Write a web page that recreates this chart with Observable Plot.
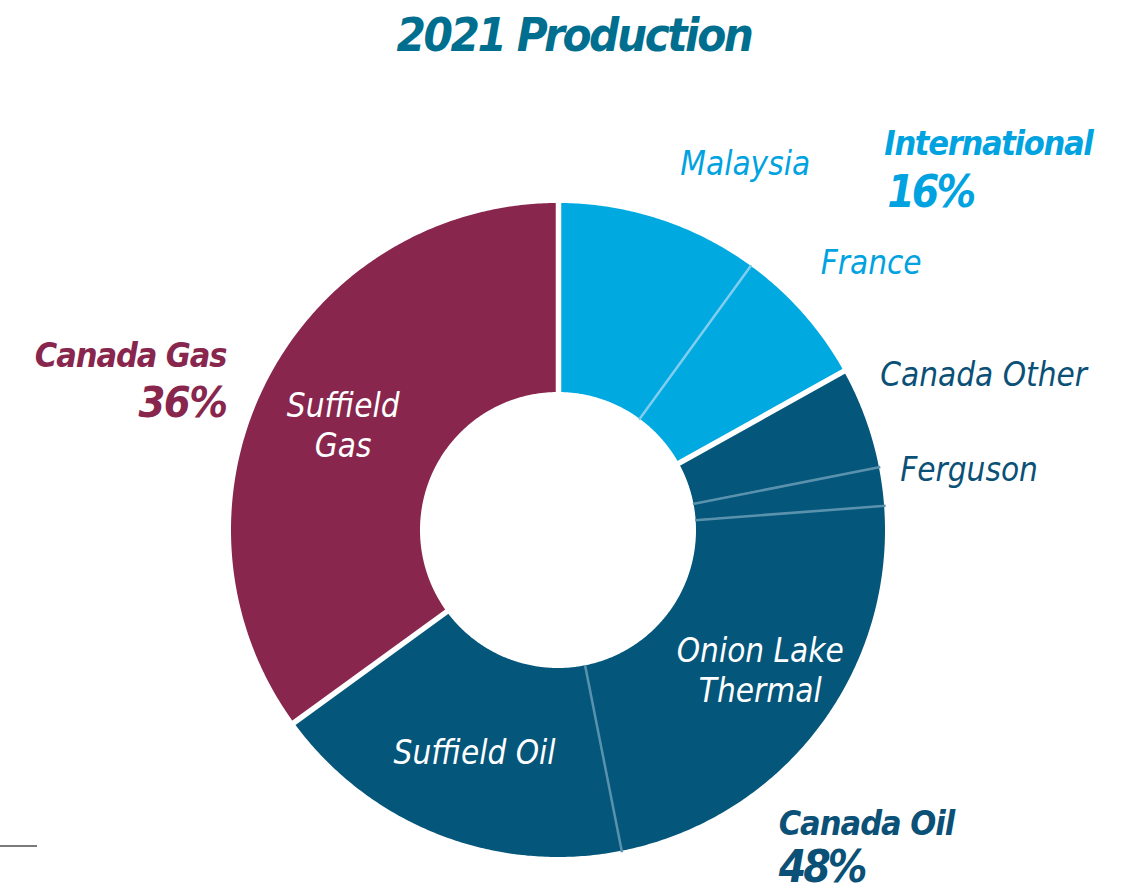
<!DOCTYPE html>
<html><head><meta charset="utf-8">
<script src="https://cdn.jsdelivr.net/npm/d3@7"></script>
<script src="https://cdn.jsdelivr.net/npm/@observablehq/plot@0.6"></script>
<style>
body{margin:0;background:#fff;}
#title{width:1128px;height:70px;line-height:70px;font-size:47px;letter-spacing:-2.4px;font-weight:bold;font-style:italic;color:#006f8f;text-align:center;padding-left:20px;box-sizing:border-box;font-family:"Liberation Sans Narrow","DejaVu Sans Condensed","Roboto Condensed",sans-serif;}
#chart{position:relative;}
#rule{position:absolute;left:0;top:845px;width:37px;height:2px;background:#7a7a7a;}
</style></head><body>
<div id="title">2021 Production</div>
<div id="chart"></div>
<div id="rule"></div>
<script>
// ---- data ----
const slices = ["Malaysia", "France", "Canada Other", "Ferguson", "Onion Lake\nThermal", "Suffield Oil", "Suffield\nGas"];
const sliceGroups = ["International", "International", "Canada Oil", "Canada Oil", "Canada Oil", "Canada Oil", "Canada Gas"];
const shares = [10.0, 6.9, 5.0, 1.9, 23.1, 18.1, 35.0];
const groups = ["International", "Canada Oil", "Canada Gas"];
const groupPct = ["16%", "48%", "36%"];

// ---- style / layout ----
const FONT = '"Liberation Sans Narrow","DejaVu Sans Condensed","Roboto Condensed",sans-serif';
const colors = ["#00a9e0", "#04567a", "#88264e"];
const thinColors = {"International": "#7fcdef", "Canada Oil": "#5a92ae"};
const textColors = {"International": "#00a3df", "Canada Oil": "#0b5076", "Canada Gas": "#88264e"};
const R = 327, R0 = 138;
const sliceLabelLayout = {
  "Malaysia": {inside: false, da: 0.4, r: 386},
  "France": {inside: false, da: -3.9, r: 374},
  "Canada Other": {inside: false, da: -5.5, r: 357},
  "Ferguson": {inside: false, da: -2.3, r: 347},
  "Onion Lake\nThermal": {inside: true, da: -2.7, r: 245},
  "Suffield Oil": {inside: true, da: -0.6, r: 236},
  "Suffield\nGas": {inside: true, da: -0.8, r: 240}
};
const groupLabelLayout = {
  "International": {da: 9.7, r: 505.6, anchor: "start", nSize: 34, nLs: -1.3, pdx: 3, pdy: 49, pSize: 44, pLs: -3},
  "Canada Oil": {da: -4.3, r: 366.8, anchor: "start", nSize: 34, nLs: -1.0, pdx: 0, pdy: 44, pSize: 44, pLs: -3},
  "Canada Gas": {da: 0.7, r: 375, anchor: "end", nSize: 34, nLs: -1.1, pdx: 0, pdy: 47, pSize: 43, pLs: -1.5}
};

// ---- geometry from data ----
const total = d3.sum(shares);
let acc = 0;
const arcs = slices.map((name, i) => {
  const a0 = acc / total * 360; acc += shares[i];
  const a1 = acc / total * 360;
  return {name, group: sliceGroups[i], a0, a1, mid: (a0 + a1) / 2};
});
const px = (r, deg) => r * Math.sin(deg * Math.PI / 180);
const py = (r, deg) => -r * Math.cos(deg * Math.PI / 180);

const ring = [];
for (const a of arcs) {
  const n = Math.max(8, Math.ceil((a.a1 - a.a0) * 2));
  for (let k = 0; k <= n; k++) {
    const t = a.a0 + (a.a1 - a.a0) * k / n;
    ring.push({name: a.name, group: a.group, x1: px(R, t), y1: py(R, t), x2: px(R0, t), y2: py(R0, t)});
  }
}
const bounds = arcs.map((a, i) => {
  const prev = arcs[(i + arcs.length - 1) % arcs.length];
  return {angle: a.a0, major: prev.group !== a.group, group: a.group};
});
const major = bounds.filter(b => b.major);
const minor = bounds.filter(b => !b.major);

const groupArcs = groups.map((g, i) => {
  const gs = arcs.filter(a => a.group === g);
  const a0 = d3.min(gs, a => a.a0), a1 = d3.max(gs, a => a.a1);
  return {group: g, pct: groupPct[i], mid: (a0 + a1) / 2};
});

const sliceLabels = arcs.map(a => {
  const L = sliceLabelLayout[a.name];
  const ang = a.mid + L.da;
  return {text: a.name, inside: L.inside, group: a.group, x: px(L.r, ang), y: py(L.r, ang)};
});
const groupLabels = groupArcs.map(g => {
  const L = groupLabelLayout[g.group];
  const ang = g.mid + L.da;
  return {...g, ...L, x: px(L.r, ang), y: py(L.r, ang)};
});

const marks = [
  Plot.area(ring, {x1: "x1", y1: "y1", x2: "x2", y2: "y2", z: "name", fill: "group", curve: "linear"}),
  Plot.link(minor, {x1: d => px(R0 - 1, d.angle), y1: d => py(R0 - 1, d.angle), x2: d => px(R + 1, d.angle), y2: d => py(R + 1, d.angle), stroke: d => thinColors[d.group], strokeWidth: 2.5}),
  Plot.link(major, {x1: d => px(R0 - 3, d.angle), y1: d => py(R0 - 3, d.angle), x2: d => px(R + 3, d.angle), y2: d => py(R + 3, d.angle), stroke: "white", strokeWidth: 5.5}),
  Plot.text(sliceLabels.filter(d => d.inside), {x: "x", y: "y", text: "text", fill: "white", fontSize: 33, fontStyle: "italic", fontFamily: FONT, lineHeight: 1.2, textAnchor: "middle"}),
  Plot.text(sliceLabels.filter(d => !d.inside), {x: "x", y: "y", text: "text", fill: d => textColors[d.group], fontSize: 33, fontStyle: "italic", fontFamily: FONT, textAnchor: "start"})
];
const spacing = new Map();
groupLabels.forEach(g => {
  spacing.set(g.group, g.nLs); spacing.set(g.pct, g.pLs);
  marks.push(Plot.text([g], {x: "x", y: "y", text: "group", fill: textColors[g.group], fontSize: g.nSize, fontWeight: "bold", fontStyle: "italic", fontFamily: FONT, textAnchor: g.anchor}));
  marks.push(Plot.text([g], {x: "x", y: "y", dx: g.pdx, dy: g.pdy, text: "pct", fill: textColors[g.group], fontSize: g.pSize, fontWeight: "bold", fontStyle: "italic", fontFamily: FONT, textAnchor: g.anchor}));
});

const chart = Plot.plot({
  width: 1128, height: 821, margin: 0,
  x: {domain: [-558, 570], range: [0, 1128], axis: null},
  y: {domain: [-460, 361], range: [0, 821], axis: null},
  color: {domain: groups, range: colors},
  marks
});
d3.select(chart).selectAll("text").each(function() {
  const t = this.textContent;
  if (spacing.has(t)) {
    this.setAttribute("letter-spacing", spacing.get(t));
    this.style.letterSpacing = spacing.get(t) + "px";
  }
});
document.getElementById("chart").appendChild(chart);
</script>
</body></html>
